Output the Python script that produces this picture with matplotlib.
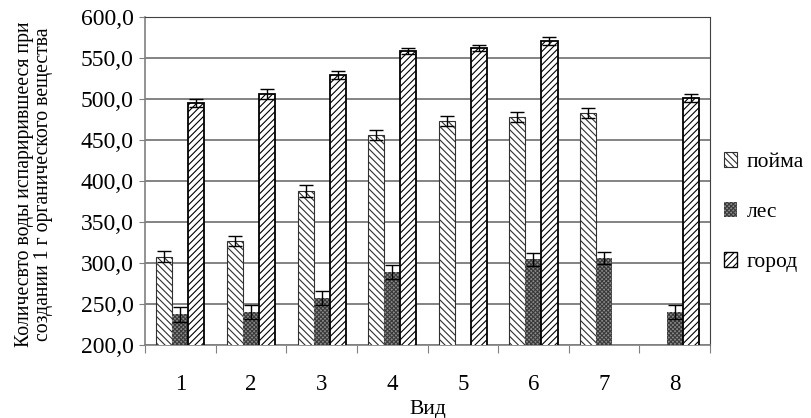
import numpy as np
import matplotlib.pyplot as plt
from matplotlib.patches import Patch
from matplotlib.font_manager import FontProperties

plt.rcParams['font.family'] = ['Liberation Serif', 'DejaVu Serif']
plt.rcParams['hatch.linewidth'] = 0.8

species = ['1', '2', '3', '4', '5', '6', '7', '8']
poyma = [307.5, 326.3, 387.8, 456.6, 473.0, 478.6, 482.7, np.nan]
les = [237.1, 240.0, 257.0, 288.8, np.nan, 304.3, 305.9, 240.0]
gorod = [495.5, 506.7, 529.1, 558.8, 562.5, 571.4, np.nan, 501.0]
poyma_err = [7, 6, 7, 6, 6, 6, 6, np.nan]
les_err = [9, 9, 9, 9, np.nan, 8, 7, 9]
gorod_err = [5, 6, 5, 4, 4, 5, np.nan, 5]

x = np.arange(1, len(species) + 1)
w = 0.227

fig = plt.figure(figsize=(8.11, 4.18), dpi=100)
ax = fig.add_axes([0.1788, 0.1754, 0.6967, 0.7832])

h_poyma = '\\' * 5
h_les = 'x' * 8
h_gorod = '/' * 5

ekw = dict(ecolor='black', elinewidth=1.0, capsize=5, capthick=1.0)
ax.bar(x - w, poyma, w, yerr=poyma_err, color='white', edgecolor='#303030',
       linewidth=0.8, hatch=h_poyma, error_kw=ekw, zorder=3)
ax.bar(x, les, w, yerr=les_err, color='#8a8a8a', edgecolor='#3a3a3a',
       linewidth=0, hatch=h_les, error_kw=ekw, zorder=3)
ax.bar(x + w, gorod, w, yerr=gorod_err, color='white', edgecolor='black',
       linewidth=1.3, hatch=h_gorod, error_kw=ekw, zorder=3)

ax.set_ylim(200, 600)
ax.set_yticks(np.arange(200, 601, 50))
ax.set_yticklabels([f'{v:.1f}'.replace('.', ',') for v in np.arange(200, 601, 50)],
                   fontsize=17)
ax.set_xlim(0.5, 8.5)
ax.set_xticks(np.arange(0.5, 9, 1))
ax.set_xticklabels([])
ax.set_xticks(x, minor=True)
ax.set_xticklabels(species, minor=True, fontsize=16.5)
ax.tick_params(axis='x', which='major', length=6, color='#808080', direction='out')
ax.tick_params(axis='x', which='minor', length=0, pad=21)
ax.tick_params(axis='y', length=4, color='#808080', direction='out', pad=4)

ax.grid(axis='y', color='#6e6e6e', linewidth=1.2, zorder=0)
for s in ['top', 'right']:
    ax.spines[s].set_color('#404040')
for s in ['left', 'bottom']:
    ax.spines[s].set_color('#808080')
    ax.spines[s].set_linewidth(1.2)

ax.set_xlabel('Вид', fontsize=15.5, labelpad=4)
ax.set_ylabel('Количесвто воды испарирившееся при\nсоздании 1 г органического вещества',
              fontsize=14.2, linespacing=1.0)
ax.yaxis.set_label_coords(-0.162, 0.49)

handles = [
    Patch(facecolor='white', edgecolor='#303030', linewidth=0.8, hatch=h_poyma),
    Patch(facecolor='#8a8a8a', edgecolor='#3a3a3a', linewidth=0, hatch=h_les),
    Patch(facecolor='white', edgecolor='black', linewidth=1.0, hatch=h_gorod),
]
ax.legend(handles, ['пойма', 'лес', 'город'], loc='center left',
          bbox_to_anchor=(1.0, 0.405), frameon=False,
          prop=FontProperties(family='Liberation Serif', size=15.5),
          handlelength=0.6, handleheight=0.7, handletextpad=0.45,
          labelspacing=1.4, borderaxespad=0.25)

fig.savefig('out.png', dpi=100)
